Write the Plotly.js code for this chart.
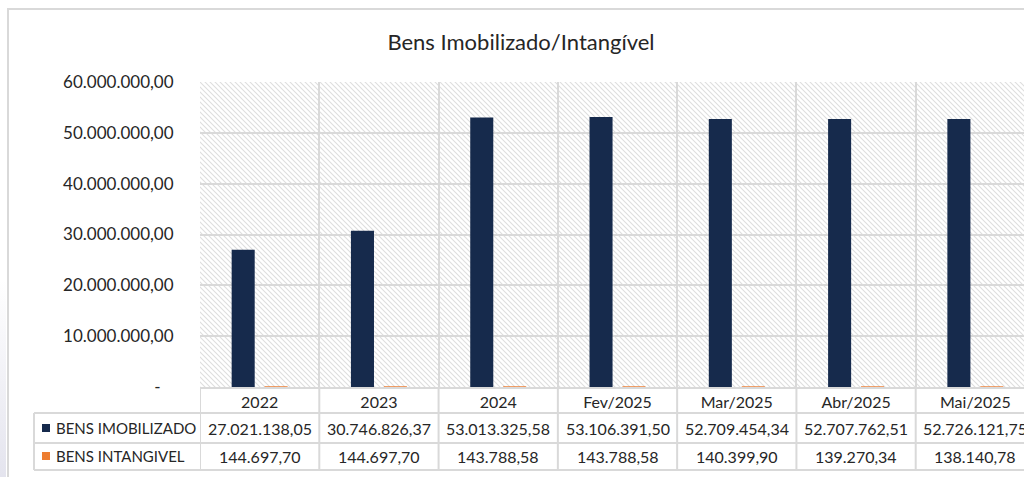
<!DOCTYPE html>
<html>
<head>
<meta charset="utf-8">
<script src="https://cdn.plot.ly/plotly-3.0.1.min.js"></script>
<style>
  html, body { margin: 0; padding: 0; width: 1024px; height: 477px; overflow: hidden; background: #ffffff; }
  #edge { position: absolute; left: 0; top: 280px; width: 6px; height: 197px; background: linear-gradient(#ffffff, #e4e4ee); }
  #frame { position: absolute; left: 7px; top: 8px; width: 1100px; height: 600px; border-left: 2px solid #d9d9d9; border-top: 2px solid #d9d9d9; }
  #chart { position: absolute; left: 0; top: 0; width: 1040px; height: 477px; }
</style>
</head>
<body>
<div id="edge"></div>
<div id="frame"></div>
<div id="chart"></div>
<script>
const categories = ["2022", "2023", "2024", "Fev/2025", "Mar/2025", "Abr/2025", "Mai/2025"];
const seriesNames = ["BENS IMOBILIZADO", "BENS INTANGIVEL"];
const imobilizado = [27021138.05, 30746826.37, 53013325.58, 53106391.50, 52709454.34, 52707762.51, 52726121.75];
const intangivel = [144697.70, 144697.70, 143788.58, 143788.58, 140399.90, 139270.34, 138140.78];
const yTickVals = [0, 10000000, 20000000, 30000000, 40000000, 50000000, 60000000];
const yTickText = ["-\u00a0\u00a0\u00a0", "10.000.000,00", "20.000.000,00", "30.000.000,00", "40.000.000,00", "50.000.000,00", "60.000.000,00"];
const titleText = "Bens Imobilizado/Intangível";

function fmtBR(v) {
  const parts = v.toFixed(2).split(".");
  const intPart = parts[0].replace(/\B(?=(\d{3})+(?!\d))/g, ".");
  return intPart + "," + parts[1];
}

const W = 1040, H = 477;
const L = 200, R = 5, T = 82, B = 90;
const pw = W - L - R, ph = H - T - B;
const px2paperX = p => (p - L) / pw;
const px2paperY = p => (H - B - p) / ph;

const navy = "#162a4c", orange = "#ed7d31", gridC = "#d9d9d9", txt = "#262626";
const font = "Lato, 'Open Sans', sans-serif";

// hatch background image
const svg = `<svg xmlns='http://www.w3.org/2000/svg' width='${pw}' height='${ph}'><defs><pattern id='p' patternUnits='userSpaceOnUse' width='5' height='5'><path d='M-1,-1 L6,6 M-1,4 L1,6 M4,-1 L6,1' stroke='#dedede' stroke-width='1.1'/></pattern></defs><rect width='100%' height='100%' fill='#ffffff'/><rect width='100%' height='100%' fill='url(#p)'/></svg>`;
const imgSrc = "data:image/svg+xml;charset=utf-8," + encodeURIComponent(svg);

const traces = [
  { type: "bar", x: categories, y: imobilizado, name: seriesNames[0], marker: { color: navy }, hoverinfo: "skip" },
  { type: "bar", x: categories, y: intangivel, name: seriesNames[1], marker: { color: orange }, hoverinfo: "skip" }
];

const yRow1Top = px2paperY(413), yRow2Top = px2paperY(443), yRow2Bot = px2paperY(470);
const yHeadTop = 0;
const xLeft = px2paperX(34);

const shapes = [];
const lineStyle = { color: gridC, width: 2 };
shapes.push({ type: "line", xref: "paper", yref: "paper", x0: xLeft, x1: 1, y0: yRow1Top, y1: yRow1Top, line: lineStyle });
shapes.push({ type: "line", xref: "paper", yref: "paper", x0: xLeft, x1: 1, y0: yRow2Top, y1: yRow2Top, line: lineStyle });
shapes.push({ type: "line", xref: "paper", yref: "paper", x0: xLeft, x1: 1, y0: yRow2Bot, y1: yRow2Bot, line: lineStyle });
shapes.push({ type: "line", xref: "paper", yref: "paper", x0: xLeft, x1: xLeft, y0: yRow1Top, y1: yRow2Bot, line: lineStyle });
for (let i = 0; i <= categories.length; i++) {
  shapes.push({ type: "line", xref: "x", yref: "paper", x0: i - 0.5, x1: i - 0.5, y0: yHeadTop, y1: yRow2Bot, line: lineStyle });
}
shapes.push({ type: "rect", xref: "paper", yref: "paper", x0: px2paperX(42), x1: px2paperX(50), y0: px2paperY(432), y1: px2paperY(424), fillcolor: navy, line: { width: 0 } });
shapes.push({ type: "rect", xref: "paper", yref: "paper", x0: px2paperX(42), x1: px2paperX(50), y0: px2paperY(460), y1: px2paperY(452), fillcolor: orange, line: { width: 0 } });

const annotations = [];
const rowY = [px2paperY(428), px2paperY(456)];
const rowVals = [imobilizado, intangivel];
seriesNames.forEach((n, r) => {
  annotations.push({ xref: "paper", yref: "paper", x: px2paperX(54), y: rowY[r], xanchor: "left", yanchor: "middle", text: n, showarrow: false, font: { family: font, size: 15, color: txt } });
  categories.forEach((c, i) => {
    annotations.push({ xref: "x", yref: "paper", x: i, y: rowY[r], xanchor: "center", yanchor: "middle", text: fmtBR(rowVals[r][i]), showarrow: false, font: { family: font, size: 16, color: txt } });
  });
});

const layout = {
  width: W, height: H,
  margin: { l: L, r: R, t: T, b: B, pad: 0 },
  paper_bgcolor: "rgba(0,0,0,0)",
  plot_bgcolor: "rgba(0,0,0,0)",
  showlegend: false,
  barmode: "group",
  bargap: 0.448,
  bargroupgap: 0.3,
  title: { text: titleText, x: 521 / W, xanchor: "center", y: 1 - 42 / H, yanchor: "middle", font: { family: font, size: 22, color: txt } },
  xaxis: {
    type: "category", range: [-0.5, categories.length - 0.5], autorange: false,
    tickson: "boundaries", showgrid: true, gridcolor: gridC, gridwidth: 2,
    showline: true, linecolor: gridC, linewidth: 2, ticks: "", zeroline: false,
    tickfont: { family: font, size: 16, color: txt }, tickangle: 0, fixedrange: true
  },
  yaxis: {
    range: [0, 60000000], autorange: false, tickvals: yTickVals, ticktext: yTickText,
    showgrid: true, gridcolor: gridC, gridwidth: 2, zeroline: false, showline: false,
    ticks: "outside", ticklen: 22, tickcolor: "rgba(0,0,0,0)",
    tickfont: { family: font, size: 17, color: txt }, fixedrange: true
  },
  images: [{ source: imgSrc, xref: "paper", yref: "paper", x: 0, y: 1, sizex: 1, sizey: 1, xanchor: "left", yanchor: "top", sizing: "stretch", layer: "below" }],
  shapes: shapes,
  annotations: annotations
};

Plotly.newPlot("chart", traces, layout, { displayModeBar: false, staticPlot: true });
</script>
</body>
</html>
